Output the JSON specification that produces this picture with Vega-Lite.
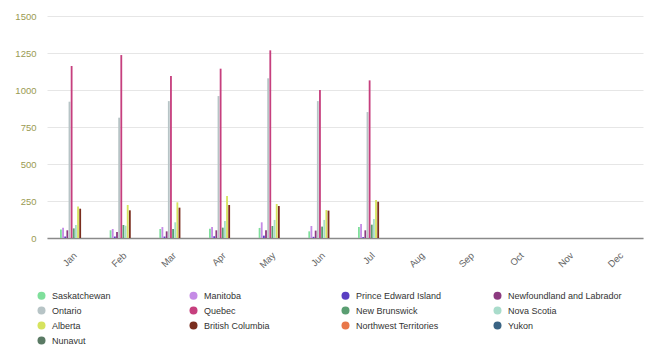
{
  "$schema": "https://vega.github.io/schema/vega-lite/v6.json",
  "width": 596,
  "height": 222,
  "autosize": {"type": "none"},
  "padding": {"left": 47, "top": 16, "right": 16, "bottom": 125},
  "background": "white",
  "config": {
    "view": {"stroke": null},
    "font": "Liberation Sans"
  },
  "data": {
    "values": [
      {"month": "Jan", "province": "Saskatchewan", "value": 58},
      {"month": "Jan", "province": "Manitoba", "value": 70},
      {"month": "Jan", "province": "Prince Edward Island", "value": 10},
      {"month": "Jan", "province": "Newfoundland and Labrador", "value": 52},
      {"month": "Jan", "province": "Ontario", "value": 921},
      {"month": "Jan", "province": "Quebec", "value": 1162},
      {"month": "Jan", "province": "New Brunswick", "value": 65},
      {"month": "Jan", "province": "Nova Scotia", "value": 88},
      {"month": "Jan", "province": "Alberta", "value": 212},
      {"month": "Jan", "province": "British Columbia", "value": 198},
      {"month": "Feb", "province": "Saskatchewan", "value": 52},
      {"month": "Feb", "province": "Manitoba", "value": 61},
      {"month": "Feb", "province": "Prince Edward Island", "value": 10},
      {"month": "Feb", "province": "Newfoundland and Labrador", "value": 40},
      {"month": "Feb", "province": "Ontario", "value": 813},
      {"month": "Feb", "province": "Quebec", "value": 1236},
      {"month": "Feb", "province": "New Brunswick", "value": 88},
      {"month": "Feb", "province": "Nova Scotia", "value": 83},
      {"month": "Feb", "province": "Alberta", "value": 223},
      {"month": "Feb", "province": "British Columbia", "value": 187},
      {"month": "Mar", "province": "Saskatchewan", "value": 61},
      {"month": "Mar", "province": "Manitoba", "value": 74},
      {"month": "Mar", "province": "Prince Edward Island", "value": 10},
      {"month": "Mar", "province": "Newfoundland and Labrador", "value": 45},
      {"month": "Mar", "province": "Ontario", "value": 925},
      {"month": "Mar", "province": "Quebec", "value": 1094},
      {"month": "Mar", "province": "New Brunswick", "value": 61},
      {"month": "Mar", "province": "Nova Scotia", "value": 106},
      {"month": "Mar", "province": "Alberta", "value": 241},
      {"month": "Mar", "province": "British Columbia", "value": 205},
      {"month": "Apr", "province": "Saskatchewan", "value": 63},
      {"month": "Apr", "province": "Manitoba", "value": 74},
      {"month": "Apr", "province": "Prince Edward Island", "value": 12},
      {"month": "Apr", "province": "Newfoundland and Labrador", "value": 52},
      {"month": "Apr", "province": "Ontario", "value": 959},
      {"month": "Apr", "province": "Quebec", "value": 1144},
      {"month": "Apr", "province": "New Brunswick", "value": 70},
      {"month": "Apr", "province": "Nova Scotia", "value": 115},
      {"month": "Apr", "province": "Alberta", "value": 284},
      {"month": "Apr", "province": "British Columbia", "value": 223},
      {"month": "May", "province": "Saskatchewan", "value": 68},
      {"month": "May", "province": "Manitoba", "value": 106},
      {"month": "May", "province": "Prince Edward Island", "value": 16},
      {"month": "May", "province": "Newfoundland and Labrador", "value": 52},
      {"month": "May", "province": "Ontario", "value": 1079},
      {"month": "May", "province": "Quebec", "value": 1268},
      {"month": "May", "province": "New Brunswick", "value": 81},
      {"month": "May", "province": "Nova Scotia", "value": 122},
      {"month": "May", "province": "Alberta", "value": 230},
      {"month": "May", "province": "British Columbia", "value": 216},
      {"month": "Jun", "province": "Saskatchewan", "value": 45},
      {"month": "Jun", "province": "Manitoba", "value": 81},
      {"month": "Jun", "province": "Prince Edward Island", "value": 8},
      {"month": "Jun", "province": "Newfoundland and Labrador", "value": 50},
      {"month": "Jun", "province": "Ontario", "value": 925},
      {"month": "Jun", "province": "Quebec", "value": 1000},
      {"month": "Jun", "province": "New Brunswick", "value": 77},
      {"month": "Jun", "province": "Nova Scotia", "value": 122},
      {"month": "Jun", "province": "Alberta", "value": 189},
      {"month": "Jun", "province": "British Columbia", "value": 185},
      {"month": "Jul", "province": "Saskatchewan", "value": 74},
      {"month": "Jul", "province": "Manitoba", "value": 95},
      {"month": "Jul", "province": "Prince Edward Island", "value": 6},
      {"month": "Jul", "province": "Newfoundland and Labrador", "value": 52},
      {"month": "Jul", "province": "Ontario", "value": 851},
      {"month": "Jul", "province": "Quebec", "value": 1065},
      {"month": "Jul", "province": "New Brunswick", "value": 90},
      {"month": "Jul", "province": "Nova Scotia", "value": 128},
      {"month": "Jul", "province": "Alberta", "value": 257},
      {"month": "Jul", "province": "British Columbia", "value": 245}
    ]
  },
  "mark": {"type": "bar", "width": {"band": 0.85}},
  "encoding": {
    "x": {
      "field": "month",
      "type": "nominal",
      "sort": null,
      "scale": {
        "domain": ["Jan", "Feb", "Mar", "Apr", "May", "Jun", "Jul", "Aug", "Sep", "Oct", "Nov", "Dec"],
        "paddingInner": 0.44,
        "paddingOuter": 0.22
      },
      "axis": {
        "title": null,
        "labelAngle": -45,
        "labelFontSize": 9.5,
        "labelColor": "#666666",
        "labelPadding": 12,
        "ticks": false,
        "domainColor": "#8a8a8a",
        "domainWidth": 1.5,
        "grid": false
      }
    },
    "xOffset": {
      "field": "province",
      "type": "nominal",
      "scale": {
        "domain": ["Saskatchewan", "Manitoba", "Prince Edward Island", "Newfoundland and Labrador", "Ontario", "Quebec", "New Brunswick", "Nova Scotia", "Alberta", "British Columbia", "Northwest Territories", "Yukon", "Nunavut"],
        "paddingInner": 0,
        "paddingOuter": 0
      }
    },
    "y": {
      "field": "value",
      "type": "quantitative",
      "scale": {"domain": [0, 1500]},
      "axis": {
        "title": null,
        "values": [0, 250, 500, 750, 1000, 1250, 1500],
        "format": "d",
        "labelFontSize": 9.5,
        "labelColor": "#9a9a52",
        "labelPadding": 11,
        "ticks": false,
        "domain": false,
        "gridColor": "#e6e6e6",
        "gridWidth": 1
      }
    },
    "color": {
      "field": "province",
      "type": "nominal",
      "scale": {
        "domain": ["Saskatchewan", "Manitoba", "Prince Edward Island", "Newfoundland and Labrador", "Ontario", "Quebec", "New Brunswick", "Nova Scotia", "Alberta", "British Columbia", "Northwest Territories", "Yukon", "Nunavut"],
        "range": ["#7fdf9b", "#c58be6", "#5a3fc2", "#8c3a80", "#b7c4c6", "#c63f7e", "#5a9e72", "#a9dccb", "#d6e35e", "#7a2d1e", "#e8774a", "#3a6484", "#5a7a64"]
      },
      "legend": {
        "title": null,
        "orient": "none",
        "legendX": -10,
        "legendY": 275,
        "direction": "horizontal",
        "columns": 4,
        "gridAlign": "all",
        "columnPadding": 23,
        "rowPadding": 5,
        "symbolType": "circle",
        "symbolSize": 64,
        "symbolStrokeWidth": 0,
        "labelFontSize": 9,
        "labelColor": "#333333",
        "labelOffset": 6,
        "labelLimit": 200
      }
    }
  }
}
